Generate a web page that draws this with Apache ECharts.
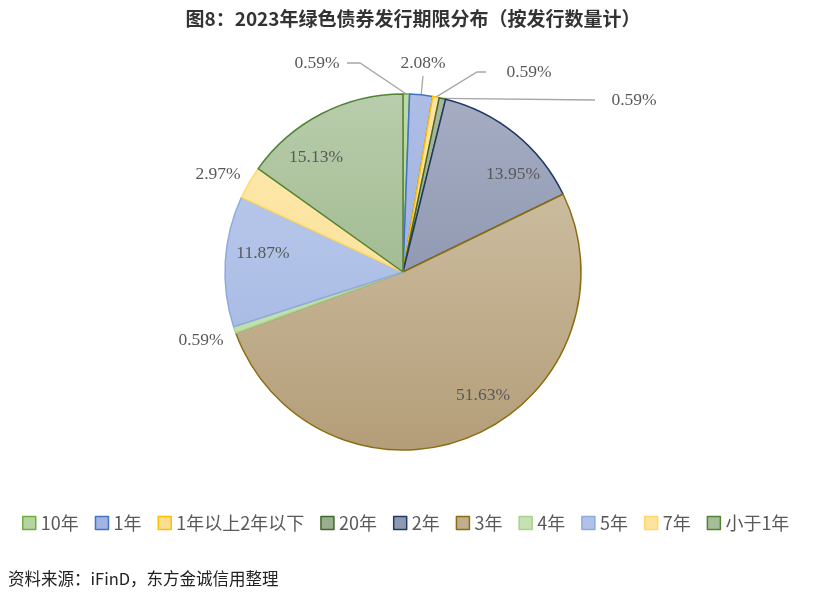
<!DOCTYPE html>
<html><head><meta charset="utf-8">
<script src="https://cdn.jsdelivr.net/npm/echarts@6/dist/echarts.min.js"></script>
<style>html,body{margin:0;padding:0;background:#fff;}#c{width:826px;height:596px;}</style>
</head><body><div id="c"></div>
<script>
const categories = ['10年','1年','1年以上2年以下','20年','2年','3年','4年','5年','7年','小于1年'];
const shares = [0.59, 2.08, 0.59, 0.59, 13.95, 51.63, 0.59, 11.87, 2.97, 15.13];

// styles
const fillTop    = ['#bcd9a8','#adbde6','#fde5a4','#a9b89f','#a6adc3','#d4c7ad','#d0e7c0','#bfcdee','#fdeab0','#b8cdab'];
const fillBottom = ['#a7ca90','#95a8da','#f9d57e','#8ca081','#7c87a2','#b49e79','#b9daa4','#a0b4e0','#fadc8c','#8eab7d'];
const borders    = ['#70ad47','#4472c4','#ffc000','#43682b','#203864','#8c6d10','#a9d18e','#8faadc','#ffd966','#548235'];
const legendFill = ['#b4d4a0','#a3b4e2','#fbdd93','#9aad8f','#8f98b2','#c1ae8e','#c6e1b4','#b0c2ea','#fce39f','#a5be97'];
const CX = 403, CY = 272, R = 178;
// label anchors (text centers) and leader elbows
const labelAt = {
  '10年':[317,63], '1年':[423,63], '1年以上2年以下':[529,72], '20年':[634,100],
  '2年':[513,174], '3年':[483,395], '4年':[201,340], '5年':[263,253], '7年':[218,174], '小于1年':[316,157]
};
const elbows = {
  '10年':[[360,63],[347,63]], '1年':[[423,76]], '1年以上2年以下':[[477,72],[486,72]], '20年':[[595,100]]
};

const total = shares.reduce((a,b)=>a+b,0);
function edgePoint(i){
  let cum = 0; for(let k=0;k<i;k++) cum += shares[k];
  const mid = (cum + shares[i]/2)/total*2*Math.PI;
  return [CX + R*Math.sin(mid), CY - R*Math.cos(mid)];
}

const chart = echarts.init(document.getElementById('c'));
const data = categories.map((n,i)=>({
  name:n, value:shares[i],
  itemStyle:{
    color:new echarts.graphic.LinearGradient(0, CY-R, 0, CY+R, [{offset:0,color:fillTop[i]},{offset:1,color:fillBottom[i]}], true),
    borderColor:borders[i], borderWidth:1.5
  },
  labelLine:{show: !!elbows[n]}
}));

chart.setOption({
  animation:false,
  backgroundColor:'#fff',
  title:{
    text:'图8：2023年绿色债券发行期限分布（按发行数量计）',
    left:'center', top:4,
    textStyle:{fontFamily:'Noto Sans CJK SC', fontSize:19, fontWeight:'bold', color:'#333333'}
  },
  legend:{
    top:509, left:17, itemWidth:13, itemHeight:13, itemGap:16,
    icon:'rect',
    textStyle:{fontFamily:'Noto Sans CJK SC', fontSize:18, color:'#595959'},
    data: categories.map((n,i)=>({name:n, itemStyle:{color:legendFill[i], borderColor:borders[i], borderWidth:1.5}}))
  },
  graphic:[{
    type:'text', left:8, top:570,
    style:{text:'资料来源：iFinD，东方金诚信用整理', font:'16.5px "Noto Sans CJK SC"', fill:'#222'}
  }],
  series:[{
    type:'pie', center:[CX,CY], radius:R, startAngle:90, clockwise:true,
    avoidLabelOverlap:false,
    label:{
      show:true, position:'outside',
      formatter:p=>p.value.toFixed(2)+'%',
      fontFamily:'Liberation Serif', fontSize:17.5, color:'#595959'
    },
    labelLine:{lineStyle:{color:'#a6a6a6', width:1.3}, length:10, length2:10},
    labelLayout:function(p){
      const n = categories[p.dataIndex];
      const pos = labelAt[n];
      const out = {x:pos[0], y:pos[1], align:'center', verticalAlign:'middle'};
      if (elbows[n]) {
        out.labelLinePoints = [edgePoint(p.dataIndex)].concat(elbows[n]);
      }
      return out;
    },
    data:data
  }]
});
</script></body></html>
